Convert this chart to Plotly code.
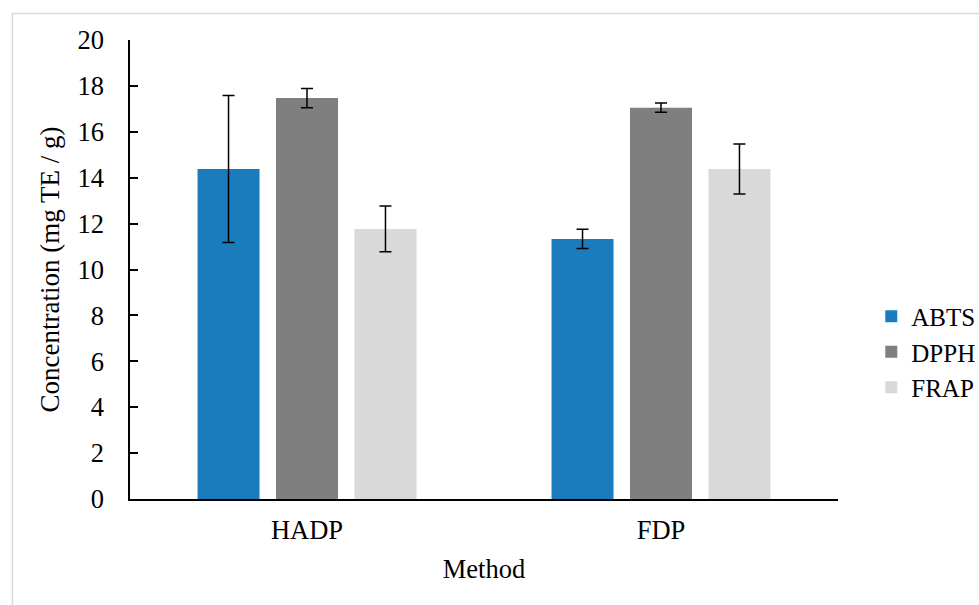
import plotly.graph_objects as go

methods = ["HADP", "FDP"]
series = ["ABTS", "DPPH", "FRAP"]
values = {
    "ABTS": [14.38, 11.33],
    "DPPH": [17.47, 17.05],
    "FRAP": [11.77, 14.38],
}
errors = {
    "ABTS": [3.2, 0.42],
    "DPPH": [0.42, 0.2],
    "FRAP": [1.0, 1.09],
}
colors = {"ABTS": "#1b7cbd", "DPPH": "#7f7f7f", "FRAP": "#d9d9d9"}
y_ticks = [0, 2, 4, 6, 8, 10, 12, 14, 16, 18, 20]

FONT = "Liberation Serif, Times New Roman, serif"
FS = 26.5

fig = go.Figure()
for s in series:
    fig.add_trace(go.Bar(
        name=s, x=methods, y=values[s],
        marker=dict(color=colors[s], line=dict(width=0)),
        error_y=dict(type="data", array=errors[s], visible=True,
                     color="black", thickness=1.5, width=6),
    ))

fig.update_layout(
    width=979, height=605,
    margin=dict(l=130, r=141, t=40, b=106, autoexpand=False),
    paper_bgcolor="white", plot_bgcolor="white",
    font=dict(family=FONT, size=FS, color="black"),
    barmode="group", bargap=0.335, bargroupgap=0.21,
    legend=dict(x=1.047, y=0.32, xanchor="left", yanchor="middle",
                font=dict(family=FONT, size=25), itemwidth=30),
    xaxis=dict(title=dict(text="Method", font=dict(family=FONT, size=FS), standoff=16),
               showline=True, linecolor="black", linewidth=1.5,
               ticks="", showgrid=False, tickfont=dict(family=FONT, size=FS),
               ticklabelstandoff=6),
    yaxis=dict(title=dict(text="Concentration (mg TE / g)", font=dict(family=FONT, size=27), standoff=10),
               range=[0, 20], tickvals=y_ticks,
               showline=True, linecolor="black", linewidth=1.5,
               ticks="inside", ticklen=8, tickcolor="black", tickwidth=1.5,
               showgrid=False, zeroline=False,
               tickfont=dict(family=FONT, size=FS), ticklabelstandoff=19),
    shapes=[dict(type="rect", xref="paper", yref="paper",
                 x0=-0.166, x1=1.4, y0=-0.4, y1=1.0577,
                 line=dict(color="#d9d9d9", width=1.5), fillcolor="rgba(0,0,0,0)",
                 layer="below")],
)

fig.write_html("out.html", config={"displayModeBar": False},
               post_script="document.body.style.margin='0';")
